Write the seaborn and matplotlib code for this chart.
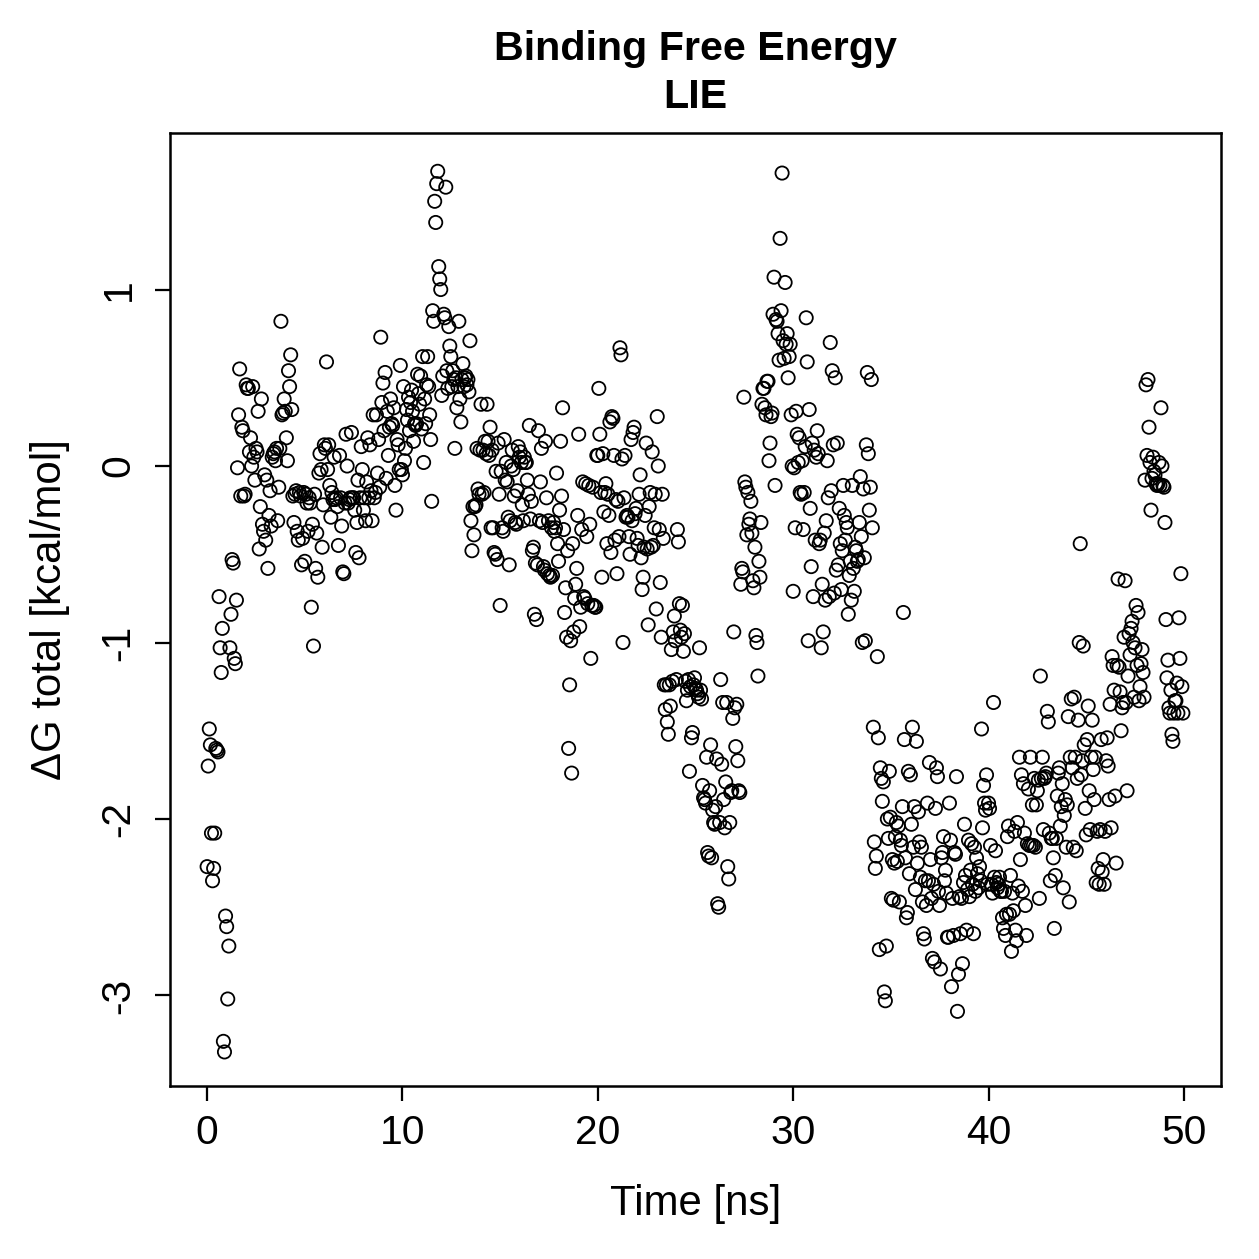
import matplotlib

matplotlib.use("Agg")

import matplotlib.pyplot as plt
import numpy as np
import pandas as pd
import seaborn as sns

TITLE = "Binding Free Energy\nLIE"
X_LABEL = "Time [ns]"
Y_LABEL = "ΔG total [kcal/mol]"
X_TICKS = [0, 10, 20, 30, 40, 50]
Y_TICKS = [-3, -2, -1, 0, 1]

# dG total (kcal/mol), one line per ns
dg_00_10 = [
    -2.27, -1.70, -1.49, -1.58, -2.08, -2.35, -2.28, -2.08, -1.60, -1.61, -1.62, -0.74, -1.03, -1.17, -0.92, -3.26, -3.32, -2.55, -2.61, -3.02, -2.72,
    -1.03, -0.84, -0.53, -0.55, -1.09, -1.12, -0.76, -0.01, 0.29, 0.55, -0.17, 0.22, 0.20, -0.17, -0.16, 0.46, 0.44, 0.44, 0.08,
    0.16, 0.00, 0.45, 0.05, -0.08, 0.10, 0.08, 0.31, -0.47, -0.23, 0.38, -0.33, -0.37, -0.05, -0.42, -0.08, -0.58, -0.28,
    -0.14, -0.34, 0.05, 0.07, 0.08, 0.03, 0.10, -0.31, -0.12, 0.10, 0.82, 0.29, 0.30, 0.38, 0.31, 0.16, 0.03, 0.54, 0.45,
    0.63, 0.32, -0.17, -0.32, -0.16, -0.14, -0.37, -0.42, -0.15, -0.17, -0.56, -0.41, -0.15, -0.54, -0.16,
    -0.21, -0.37, -0.18, -0.21, -0.80, -0.33, -1.02, -0.16, -0.58, -0.38, -0.63, -0.04, 0.07, -0.02, -0.46, -0.22, 0.12,
    0.10, 0.59, -0.02, 0.12, -0.11, -0.29, -0.15, -0.19, 0.05, -0.19, -0.18, -0.23, -0.45, 0.06, -0.18, -0.34, -0.60,
    -0.61, -0.21, 0.18, 0.00, -0.21, -0.19, -0.18, 0.19, -0.18, -0.18, -0.25, -0.49, -0.32, -0.08, -0.52, -0.18, 0.11, -0.02,
    -0.25, -0.18, -0.31, -0.09, 0.16, -0.18, 0.12, -0.14, -0.31, 0.29, -0.18, -0.15, 0.29, -0.04, 0.15, -0.12, 0.73, 0.36,
    0.47, 0.20, 0.53, -0.07, 0.31, 0.06, 0.22, 0.38, 0.24, 0.23, 0.33, -0.11, -0.25, 0.15, 0.12, -0.02, 0.57, -0.02,
]
dg_10_20 = [
    -0.05, 0.45, 0.03, 0.10, 0.32, 0.26, 0.39, 0.20, 0.36, 0.43, 0.31, 0.14, 0.24, 0.23, 0.24, 0.52, 0.41, 0.35, 0.51,
    0.21, 0.62, 0.02, 0.38, 0.24, 0.46, 0.62, 0.45, 0.29, 0.15, -0.20, 0.88, 0.82, 1.50, 1.38, 1.60, 1.67, 1.13, 1.06, 1.00,
    0.40, 0.51, 0.86, 0.84, 1.58, 0.54, 0.44, 0.79, 0.68, 0.62, 0.45, 0.54, 0.49, 0.10, 0.50, 0.33, 0.45, 0.82, 0.38, 0.25,
    0.49, 0.58, 0.45, 0.50, 0.51, 0.46, 0.49, 0.42, 0.71, -0.31, -0.48, -0.23, -0.39, -0.23, -0.22, 0.10, -0.13, -0.16, 0.09,
    0.35, -0.16, 0.09, -0.15, 0.14, 0.07, 0.35, 0.14, 0.06, 0.22, -0.35, 0.09, -0.35, -0.49, -0.50, -0.03, -0.53, 0.13, -0.16, -0.79,
    -0.03, -0.35, -0.37, 0.15, -0.08, 0.02, -0.09, -0.29, -0.56, -0.31, 0.00, 0.09, -0.02, -0.17, -0.32, -0.33, -0.14, 0.11, 0.05,
    0.08, 0.02, -0.22, -0.31, 0.05, 0.02, 0.02, -0.08, -0.16, 0.23, -0.30, -0.20, -0.48, -0.46, -0.84, -0.55, -0.87, -0.56, 0.20,
    -0.31, -0.09, 0.10, -0.32, -0.57, -0.59, 0.14, -0.18, -0.61, -0.31, -0.62, -0.63, -0.35, -0.62, -0.32, -0.37, -0.35, -0.04, -0.44,
    -0.54, -0.25, 0.14, -0.17, 0.33, -0.36, -0.83, -0.69, -0.97, -0.48, -1.60, -1.24, -0.99, -1.74, -0.44, -0.94, -0.75, -0.67, -0.58, -0.28,
    0.18, -0.91, -0.80, -0.36, -0.09, -0.74, -0.75, -0.10, -0.40, -0.78, -0.11, -0.33, -1.09, -0.79, -0.12, -0.79, -0.80, -0.80, 0.06,
]
dg_20_30 = [
    0.06, 0.44, 0.18, -0.15, -0.63, 0.07, -0.26, -0.15, -0.10, -0.44, -0.16, -0.28, 0.25, -0.49, 0.28, 0.27, 0.06, -0.42, -0.19,
    -0.61, -0.20, -0.40, 0.67, 0.63, 0.04, -1.00, -0.18, 0.06, -0.29, -0.28, -0.29, -0.40, -0.50, 0.15, -0.31, 0.19, 0.22, -0.27,
    -0.24, -0.41, -0.45, -0.16, -0.05, -0.52, -0.70, -0.63, -0.46, -0.28, 0.13, -0.47, -0.90, -0.23, -0.15, -0.46, 0.08, -0.45, -0.35, -0.16,
    -0.81, 0.28, 0.00, -0.36, -0.66, -0.97, -0.16, -0.41, -1.24, -1.38, -1.24, -1.45, -1.52, -1.24, -1.36, -1.04, -1.22, -0.94, -0.85,
    -0.99, -1.21, -0.36, -0.43, -0.78, -0.93, -0.97, -0.79, -1.05, -0.95, -1.22, -1.33, -1.27, -1.21, -1.73, -1.25, -1.54, -1.51, -1.24, -1.20,
    -1.26, -1.27, -1.29, -1.31, -1.03, -1.27, -1.32, -1.81, -1.88, -1.89, -1.91, -1.65, -2.19, -2.21, -1.84, -1.58, -2.22, -1.95, -2.02,
    -2.03, -1.93, -1.66, -2.48, -2.50, -2.02, -1.21, -1.69, -1.34, -1.89, -2.05, -1.79, -1.34, -2.27, -2.34, -2.02, -1.85, -1.84, -1.43, -0.94,
    -1.37, -1.59, -1.35, -1.67, -1.84, -1.85, -0.67, -0.58, -0.60, 0.39, -0.09, -0.12, -0.39, -0.15, -0.33, -0.30, -0.20, -0.38, -0.65,
    -0.69, -0.46, -0.96, -1.00, -1.19, -0.54, -0.63, -0.32, 0.35, 0.44, 0.44, 0.33, 0.29, 0.48, 0.48, 0.03, 0.13, 0.28, 0.30, 0.86,
    1.07, -0.11, 0.83, 0.82, 0.75, 0.60, 1.29, 0.88, 1.66, 0.71, 0.61, 1.04, 0.69, 0.75, 0.50, 0.62, 0.69, 0.29, 0.00,
]
dg_30_40 = [
    -0.71, -0.01, -0.35, 0.31, 0.18, 0.02, 0.16, -0.15, -0.16, 0.03, -0.36, -0.15, 0.11, 0.84, 0.59, -0.99, 0.32, -0.24, -0.57, 0.13,
    -0.74, 0.09, -0.42, 0.05, 0.20, 0.07, -0.44, -0.42, -1.03, -0.67, -0.94, -0.38, -0.76, -0.31, 0.03, -0.18, -0.74, 0.70, -0.14,
    0.54, 0.12, -0.72, 0.50, -0.59, 0.13, -0.56, -0.24, -0.44, -0.70, -0.48, -0.11, -0.28, -0.42, -0.32, -0.35, -0.84, -0.62, -0.54, -0.76,
    -0.11, -0.58, -0.71, -0.46, -0.48, -0.54, -0.53, -0.32, -0.06, -0.40, -1.00, -0.13, -0.52, -0.99, 0.12, 0.53, 0.07, -0.25, -0.12,
    0.49, -0.35, -1.48, -2.13, -2.28, -2.21, -1.08, -1.54, -2.74, -1.71, -1.77, -1.90, -1.79, -2.98, -3.03, -2.72, -2.00, -2.11, -1.73, -1.99,
    -2.45, -2.23, -2.46, -2.25, -2.10, -2.02, -2.24, -2.04, -2.47, -2.12, -2.15, -1.93, -0.83, -1.55, -2.22, -2.56, -2.53, -1.73, -2.31,
    -1.75, -2.03, -1.48, -2.16, -1.93, -2.40, -1.56, -2.25, -1.96, -2.13, -2.33, -2.16, -2.47, -2.65, -2.68, -2.35, -2.49, -1.91, -2.35, -1.68,
    -2.23, -2.45, -2.79, -2.37, -2.81, -1.94, -1.71, -1.76, -2.41, -2.49, -2.85, -2.22, -2.19, -2.10, -2.35, -2.29, -2.42, -2.67, -2.67,
    -1.91, -2.12, -2.95, -2.45, -2.66, -2.19, -2.20, -1.76, -3.09, -2.88, -2.44, -2.65, -2.45, -2.82, -2.36, -2.03, -2.32, -2.63, -2.40, -2.12,
    -2.44, -2.29, -2.14, -2.37, -2.65, -2.16, -2.41, -2.22, -2.31, -2.39, -2.27, -2.35, -1.49, -2.05, -1.81, -1.91, -1.95, -1.75, -2.37,
]
dg_40_50 = [
    -1.91, -1.94, -2.15, -2.37, -2.42, -1.34, -2.33, -2.18, -2.36, -2.39, -2.37, -2.33, -2.41, -2.41, -2.56, -2.62, -2.41, -2.66, -2.54, -2.10,
    -2.04, -2.54, -2.32, -2.75, -2.42, -2.52, -2.07, -2.63, -2.69, -2.02, -2.38, -1.65, -2.23, -1.75, -2.41, -1.80, -2.08, -2.49, -2.66,
    -2.14, -1.83, -2.15, -1.65, -2.15, -1.92, -2.15, -1.77, -2.16, -1.92, -1.84, -1.78, -2.45, -1.19, -1.77, -1.65, -2.06, -1.77, -1.76, -1.74,
    -1.39, -1.45, -2.08, -2.35, -2.11, -2.11, -2.22, -2.62, -2.32, -2.11, -1.87, -1.74, -1.71, -2.04, -1.93, -1.80, -2.39, -1.98, -1.89,
    -2.16, -1.92, -1.42, -2.47, -1.65, -1.32, -1.71, -2.16, -1.31, -1.65, -2.18, -1.77, -1.44, -1.00, -0.44, -1.75, -1.67, -1.02, -1.58, -1.94,
    -2.09, -1.55, -1.36, -1.84, -2.06, -1.65, -1.44, -1.72, -1.89, -1.65, -2.36, -2.07, -2.28, -2.37, -2.06, -1.55, -2.30, -2.23, -2.37,
    -2.07, -1.67, -1.54, -1.70, -1.89, -1.35, -2.05, -1.08, -1.13, -1.27, -1.87, -2.25, -1.13, -0.64, -1.14, -1.28, -1.50, -1.37, -1.34, -0.97,
    -0.65, -1.34, -1.84, -1.19, -0.95, -1.07, -0.92, -0.88, -1.00, -1.31, -1.03, -0.79, -1.13, -0.83, -1.33, -1.25, -1.12, -1.04, -1.17,
    -1.31, -0.08, 0.46, 0.06, 0.49, 0.22, 0.02, -0.25, -0.07, 0.05, -0.03, -0.05, -0.10, -0.11, -0.10, 0.02, -0.11, 0.33, 0.00, -0.11,
    -0.12, -0.32, -0.87, -1.20, -1.10, -1.37, -1.40, -1.27, -1.52, -1.56, -1.40, -1.33, -1.33, -1.23, -1.40, -0.86, -1.09, -0.61, -1.25, -1.40,
]
segment_starts = [0, 10, 20, 30, 40]


def build_frame() -> pd.DataFrame:
    parts = []
    for start, vals in zip(segment_starts, [dg_00_10, dg_10_20, dg_20_30, dg_30_40, dg_40_50]):
        n = len(vals)
        t = start + np.arange(n) * 10.0 / n
        parts.append(pd.DataFrame({"time": t, "dg": vals}))
    return pd.concat(parts, ignore_index=True)


def main() -> None:
    sns.set_theme(style="ticks")
    plt.rcParams.update(
        {
            "font.family": ["Liberation Sans", "DejaVu Sans"],
            "axes.unicode_minus": False,
            "axes.linewidth": 1.0,
            "axes.edgecolor": "black",
            "axes.labelcolor": "black",
            "text.color": "black",
            "xtick.color": "black",
            "ytick.color": "black",
            "xtick.major.size": 6,
            "ytick.major.size": 6,
            "xtick.major.width": 0.9,
            "ytick.major.width": 0.9,
            "xtick.major.pad": 5,
            "ytick.major.pad": 7,
        }
    )
    df = build_frame()

    fig = plt.figure(figsize=(1259 / 180, 1259 / 180), dpi=180)
    ax = fig.add_axes([170 / 1259, 1 - 1086 / 1259, 1051 / 1259, 953 / 1259])
    sns.scatterplot(
        data=df, x="time", y="dg", ax=ax, marker="o", s=28,
        facecolors="none", edgecolor="black", linewidth=0.72,
    )
    ax.set_xlim(-1.9, 51.9)
    ax.set_ylim(-3.513, 1.887)
    ax.set_xticks(X_TICKS)
    ax.set_yticks(Y_TICKS)
    ax.tick_params(labelsize=16.3)
    plt.setp(ax.get_yticklabels(), rotation=90, va="center")
    for s in ax.spines.values():
        s.set_visible(True)
    ax.set_xlabel(X_LABEL, fontsize=16.8, labelpad=13)
    ax.set_ylabel(Y_LABEL, fontsize=16.8, labelpad=12)
    ax.set_title(TITLE, fontsize=16.5, fontweight="bold", pad=10, linespacing=1.35)
    fig.savefig("out.png", dpi=180, facecolor="white")
    plt.close(fig)


if __name__ == "__main__":
    main()
